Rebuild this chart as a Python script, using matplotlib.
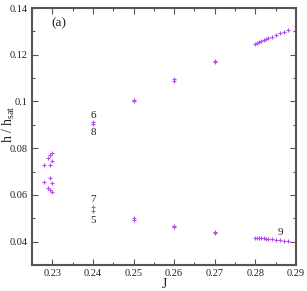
import matplotlib
matplotlib.use("Agg")
import matplotlib.pyplot as plt
from matplotlib.ticker import MultipleLocator

# Upper branch data
J_up = [0.228, 0.229, 0.2295, 0.23, 0.2295, 0.23,
        0.24, 0.24, 0.25, 0.25, 0.26, 0.26, 0.27, 0.27,
        0.28, 0.2805, 0.281, 0.2815, 0.282, 0.2825, 0.283, 0.284,
        0.285, 0.286, 0.287, 0.288, 0.29]
h_up = [0.0728, 0.0759, 0.0770, 0.0778, 0.0726, 0.0746,
        0.0912, 0.0905, 0.1008, 0.1002, 0.1094, 0.1088, 0.1175, 0.1170,
        0.1246, 0.1250, 0.1254, 0.1257, 0.1262, 0.1267, 0.1272, 0.1277,
        0.1283, 0.1292, 0.1296, 0.1305, 0.1322]

# Lower branch data
J_lo = [0.228, 0.229, 0.2295, 0.23, 0.2295, 0.23,
        0.24, 0.24, 0.25, 0.25, 0.26, 0.26, 0.27, 0.27,
        0.28, 0.2805, 0.281, 0.2815, 0.282, 0.2825, 0.283, 0.284,
        0.285, 0.286, 0.287, 0.288, 0.29]
h_lo = [0.0654, 0.0630, 0.0671, 0.0652, 0.0620, 0.0613,
        0.0549, 0.0533, 0.0501, 0.0491, 0.0468, 0.0463, 0.0440, 0.0436,
        0.0416, 0.0416, 0.0415, 0.0415, 0.0414, 0.0413, 0.0412, 0.0410,
        0.0408, 0.0406, 0.0404, 0.0402, 0.0399]

labels = ["6", "8", "7", "5", "9"]
label_J = [0.24, 0.24, 0.24, 0.24, 0.2862]
label_h = [0.0942, 0.0866, 0.0581, 0.0492, 0.0441]

serif = ["Liberation Serif", "DejaVu Serif"]
plt.rcParams["font.family"] = serif
plt.rcParams["mathtext.fontset"] = "custom"
plt.rcParams["mathtext.rm"] = "Liberation Serif"
plt.rcParams["mathtext.it"] = "Liberation Serif:italic"

fig = plt.figure(figsize=(3.07, 2.91), dpi=100)
ax = fig.add_axes([32/307, 1 - 265/291, (296-32)/307, (265-8)/291])

col = "#b44cf0"
ax.plot(J_up, h_up, linestyle="none", marker="+", ms=3.2, mew=0.8, color=col)
ax.plot(J_lo, h_lo, linestyle="none", marker="+", ms=3.2, mew=0.8, color=col)

for t, x, y in zip(labels, label_J, label_h):
    ax.text(x, y, t, ha="center", va="center", fontsize=8, color="#222222")

ax.text(0.0715, 0.94, "(a)", transform=ax.transAxes, ha="left", va="center",
        fontsize=9.5, color="#222222")

ax.set_xlim(0.225, 0.29)
ax.set_ylim(0.03, 0.14)
ax.xaxis.set_minor_locator(MultipleLocator(0.005))
ax.yaxis.set_minor_locator(MultipleLocator(0.01))
ax.set_xticks([0.23, 0.24, 0.25, 0.26, 0.27, 0.28, 0.29])
ax.set_xticklabels(["0.23", "0.24", "0.25", "0.26", "0.27", "0.28", "0.29"])
ax.set_yticks([0.04, 0.06, 0.08, 0.1, 0.12, 0.14])
ax.set_yticklabels(["0.04", "0.06", "0.08", "0.1", "0.12", "0.14"])

ax.tick_params(which="both", direction="in", top=True, right=True,
               labelsize=7.5, colors="#555555", labelcolor="#222222", pad=3)
ax.tick_params(which="major", length=4, width=0.8)
ax.tick_params(which="minor", length=2, width=0.8)
for s in ax.spines.values():
    s.set_color("#555555")
    s.set_linewidth(1.5)

ax.set_xlabel("J", fontsize=10, color="#222222", labelpad=0)
fig.text(8.5/307, 1 - 124/291, r"h / h$_{\rm sat}$", rotation=90,
         ha="center", va="center", fontsize=10, color="#222222")

fig.savefig("out.png", dpi=100)
